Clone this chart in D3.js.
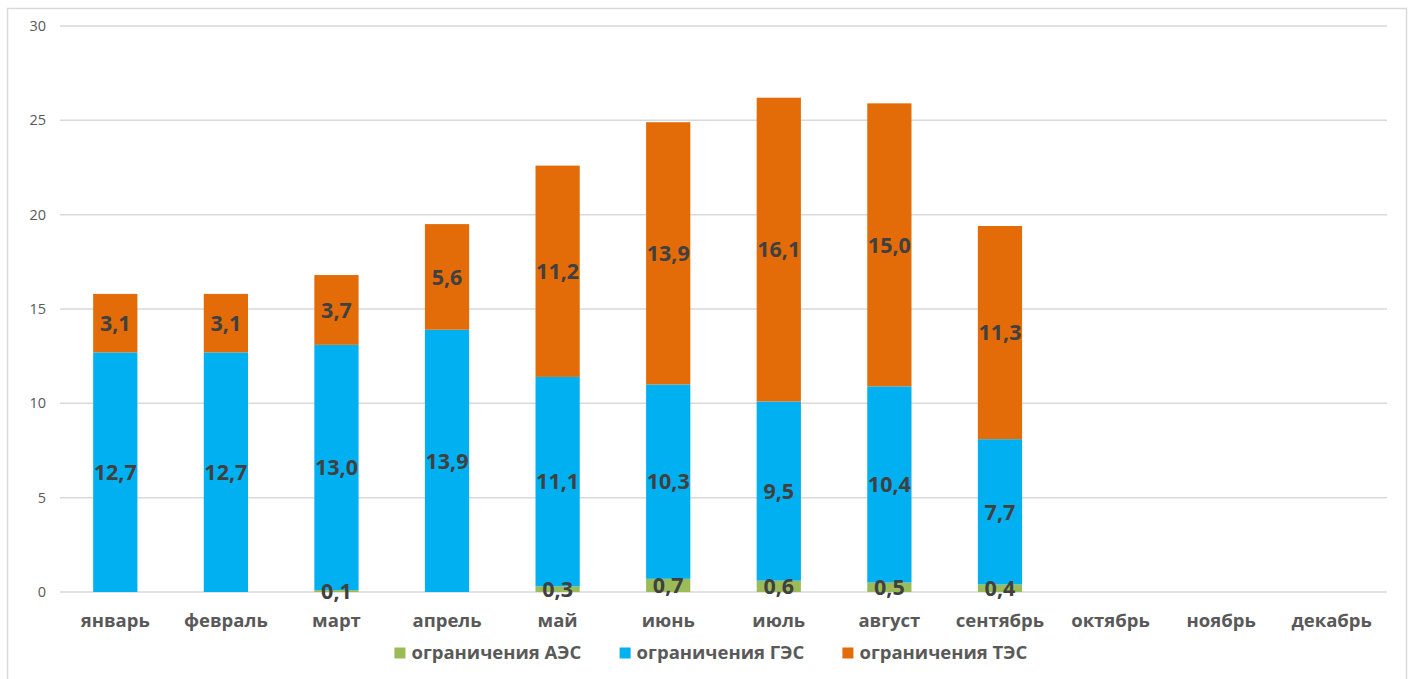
<!DOCTYPE html>
<html>
<head>
<meta charset="utf-8">
<script src="https://cdn.jsdelivr.net/npm/d3@7"></script>
<style>
  html, body { margin: 0; padding: 0; background: #fff; }
  svg { display: block; }
</style>
</head>
<body>
<svg id="chart" width="1413" height="679"></svg>
<script>
// Monthly generation constraints by plant type (stacked)
const months = ["январь", "февраль", "март", "апрель", "май", "июнь", "июль", "август", "сентябрь", "октябрь", "ноябрь", "декабрь"];
const npp   = [0, 0, 0.1, 0, 0.3, 0.7, 0.6, 0.5, 0.4, null, null, null];
const hpp   = [12.7, 12.7, 13.0, 13.9, 11.1, 10.3, 9.5, 10.4, 7.7, null, null, null];
const tpp   = [3.1, 3.1, 3.7, 5.6, 11.2, 13.9, 16.1, 15.0, 11.3, null, null, null];
const seriesNames = ["ограничения АЭС", "ограничения ГЭС", "ограничения ТЭС"];
const seriesKeys = ["npp", "hpp", "tpp"];
const yTicks = [0, 5, 10, 15, 20, 25, 30];

const colors = { npp: "#9BBB59", hpp: "#00B0F0", tpp: "#E36C09" };
const font = "'Open Sans', 'Noto Sans', sans-serif";

const svg = d3.select("#chart");

// outer frame
svg.append("rect")
  .attr("x", 7.5).attr("y", 8.5)
  .attr("width", 1399).attr("height", 690)
  .attr("fill", "#fff").attr("stroke", "#d9d9d9").attr("stroke-width", 1.5);

const x = d3.scaleBand().domain(months).range([60, 1387]).paddingInner(0.6).paddingOuter(0.3);
const y = d3.scaleLinear().domain([0, 30]).range([592, 26]);

// gridlines
svg.append("g").selectAll("line").data(yTicks).join("line")
  .attr("x1", 60).attr("x2", 1387)
  .attr("y1", d => y(d)).attr("y2", d => y(d))
  .attr("stroke", "#d9d9d9").attr("stroke-width", 1.5);

// y tick labels
const yAxis = d3.axisLeft(y).tickValues(yTicks).tickSize(0).tickPadding(0);
const yg = svg.append("g").attr("transform", "translate(46,0)").call(yAxis);
yg.select(".domain").remove();
yg.selectAll("text")
  .attr("font-family", font).attr("font-size", 14.5).attr("fill", "#595959");

// stacked data
const rows = months.map((m, i) => ({ month: m, npp: npp[i], hpp: hpp[i], tpp: tpp[i] }));
const stack = d3.stack().keys(seriesKeys).value((d, k) => d[k] || 0);
const layers = stack(rows);

const fmt = v => d3.format(".1f")(v).replace(".", ",");

layers.forEach(layer => {
  const key = layer.key;
  const g = svg.append("g");
  g.selectAll("rect").data(layer).join("rect")
    .attr("x", d => x(d.data.month))
    .attr("width", x.bandwidth())
    .attr("y", d => y(d[1]))
    .attr("height", d => y(d[0]) - y(d[1]))
    .attr("fill", colors[key]);
});

// data labels
layers.forEach(layer => {
  const key = layer.key;
  svg.append("g").selectAll("text")
    .data(layer.filter(d => d.data[key] != null && d.data[key] > 0))
    .join("text")
    .attr("x", d => x(d.data.month) + x.bandwidth() / 2)
    .attr("y", d => y((d[0] + d[1]) / 2))
    .attr("dy", "0.36em")
    .attr("text-anchor", "middle")
    .attr("font-family", font).attr("font-weight", 700).attr("font-size", 21.5)
    .attr("fill", "#404040")
    .text(d => fmt(d.data[key]));
});

// x axis labels
const xAxis = d3.axisBottom(x).tickSize(0).tickPadding(0);
const xg = svg.append("g").attr("transform", "translate(0,621)").call(xAxis);
xg.select(".domain").remove();
xg.selectAll("text")
  .attr("dy", "0.35em")
  .attr("font-family", font).attr("font-weight", 700).attr("font-size", 18.5).attr("fill", "#595959");

// legend
const legend = svg.append("g");
const items = legend.selectAll("g").data(seriesKeys).join("g");
items.append("rect").attr("width", 11).attr("height", 11).attr("y", -5.5)
  .attr("fill", d => colors[d]);
items.append("text").attr("x", 17).attr("dy", "0.35em")
  .attr("font-family", font).attr("font-weight", 700).attr("font-size", 18.5).attr("fill", "#595959")
  .text((d, i) => seriesNames[i]);
let cx = 0;
items.each(function () {
  d3.select(this).attr("transform", `translate(${cx},0)`);
  cx += this.getBBox().width + 38;
});
const totalW = cx - 38;
legend.attr("transform", `translate(${711 - totalW / 2},653)`);
</script>
</body>
</html>
